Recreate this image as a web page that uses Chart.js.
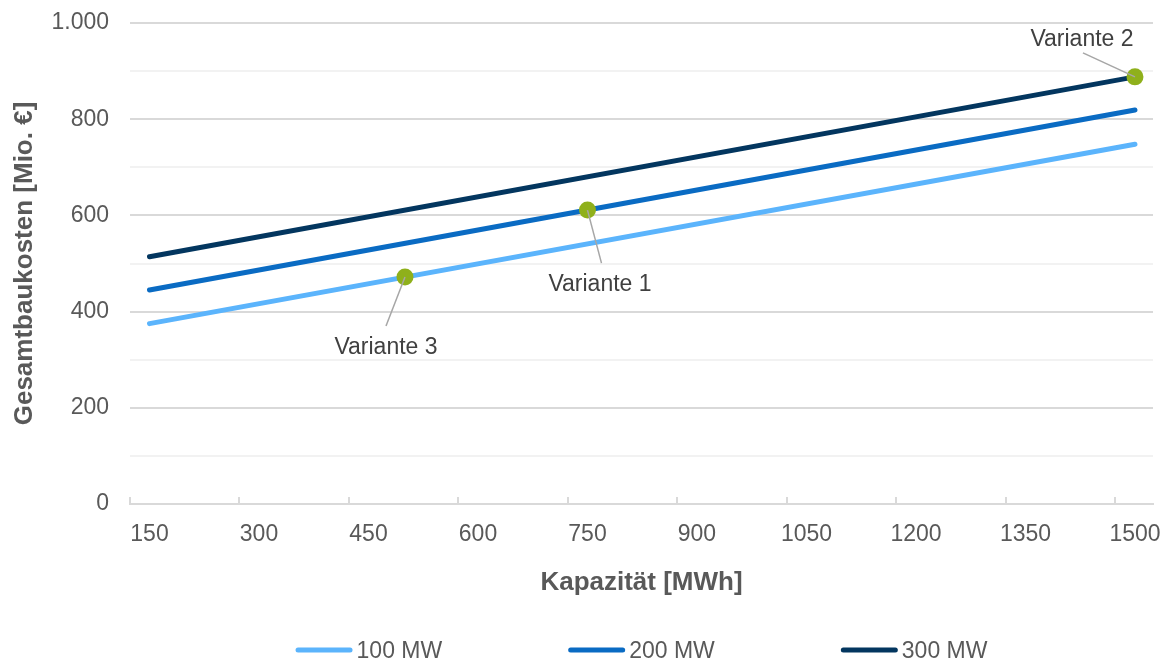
<!DOCTYPE html>
<html lang="de">
<head>
<meta charset="utf-8">
<title>Gesamtbaukosten nach Kapazität</title>
<script src="https://cdn.jsdelivr.net/npm/chart.js@4.4.1/dist/chart.umd.min.js"></script>
<style>
  html, body { margin: 0; padding: 0; background: #ffffff; }
  #wrap { width: 1167px; height: 660px; }
</style>
</head>
<body>
<div id="wrap"><canvas id="chart" width="1167" height="660"></canvas></div>
<script>
// Speicherkapazität [MWh] an den Enden der Kostengeraden
const capacities = [150, 1500];

// Gesamtbaukosten [Mio. €] je Leistungsklasse
const cost100MW = [375, 748];
const cost200MW = [445, 819];
const cost300MW = [514, 888];

// Untersuchte Varianten
const variantNames = ['Variante 1', 'Variante 2', 'Variante 3'];
const variantCapacity = [750, 1500, 500];
const variantCost = [611, 888, 472];

// Achsenbeschriftungen
const xTickValues = [150, 300, 450, 600, 750, 900, 1050, 1200, 1350, 1500];
const yTickStep = 100;
const yLabelStep = 200;

const seriesNames = ['100 MW', '200 MW', '300 MW'];
const seriesColors = ['#5bb4fc', '#0a6bc3', '#03365f'];

const FONT = "'Liberation Sans', Arial, Helvetica, sans-serif";
const TEXT = '#595959';
const X_MIN = 123.3;
const X_MAX = 1524.7;

function toPoints(xs, ys) {
  return xs.map((x, i) => ({ x: x, y: ys[i] }));
}

function formatDe(v) {
  return String(v).replace(/\B(?=(\d{3})+(?!\d))/g, '.');
}

// The plot area is fixed by the layout padding, so label overhang is not reserved
function noLabelPadding(s) {
  s.paddingLeft = 0;
  s.paddingRight = 0;
  s.paddingTop = 0;
  s.paddingBottom = 0;
}

// Tick marks on the capacity axis sit at the axis start and every 150 MWh from there
const axisTickMarks = {
  id: 'axisTickMarks',
  afterDraw(chart) {
    const s = chart.scales.x;
    const ctx = chart.ctx;
    const y0 = chart.chartArea.bottom;
    ctx.save();
    ctx.strokeStyle = '#d9d9d9';
    ctx.lineWidth = 2;
    ctx.beginPath();
    for (let v = X_MIN; v < X_MAX; v += 150) {
      const px = Math.round(s.getPixelForValue(v));
      ctx.moveTo(px, y0);
      ctx.lineTo(px, y0 - 7);
    }
    ctx.stroke();
    ctx.restore();
  }
};

// Labels with leader lines for the marked variants
const variantLabels = {
  id: 'variantLabels',
  afterDatasetsDraw(chart, args, opts) {
    const meta = chart.getDatasetMeta(3);
    const ctx = chart.ctx;
    ctx.save();
    meta.data.forEach((pt, i) => {
      const o = opts.offsets[i];
      ctx.strokeStyle = '#a6a6a6';
      ctx.lineWidth = 1.5;
      ctx.beginPath();
      ctx.moveTo(pt.x, pt.y);
      ctx.lineTo(pt.x + o.lx, pt.y + o.ly);
      ctx.stroke();
      ctx.fillStyle = '#404040';
      ctx.font = '23px ' + FONT;
      ctx.textAlign = 'center';
      ctx.textBaseline = 'middle';
      ctx.fillText(variantNames[i], pt.x + o.tx, pt.y + o.ty);
    });
    ctx.restore();
  }
};

// Legend row below the axis title
const lineLegend = {
  id: 'lineLegend',
  afterDraw(chart, args, opts) {
    const ctx = chart.ctx;
    ctx.save();
    ctx.font = '23px ' + FONT;
    const items = chart.data.datasets.filter(d => !d.hideInLegend);
    const widths = items.map(d => opts.lineLength + opts.gap + ctx.measureText(d.label).width);
    const total = widths.reduce((a, b) => a + b, 0) + opts.spacing * (items.length - 1);
    const cx = (chart.chartArea.left + chart.chartArea.right) / 2;
    let x = cx - total / 2;
    const y = opts.y;
    items.forEach((d, i) => {
      ctx.strokeStyle = d.borderColor;
      ctx.lineWidth = 5;
      ctx.lineCap = 'round';
      ctx.beginPath();
      ctx.moveTo(x + 2.5, y);
      ctx.lineTo(x + opts.lineLength - 2.5, y);
      ctx.stroke();
      ctx.fillStyle = TEXT;
      ctx.textAlign = 'left';
      ctx.textBaseline = 'middle';
      ctx.fillText(d.label, x + opts.lineLength + opts.gap, y + opts.textShift);
      x += widths[i] + opts.spacing;
    });
    ctx.restore();
  }
};

const lineSeries = [cost100MW, cost200MW, cost300MW].map((vals, i) => ({
  type: 'line',
  label: seriesNames[i],
  order: 1,
  data: toPoints(capacities, vals),
  borderColor: seriesColors[i],
  backgroundColor: seriesColors[i],
  borderWidth: 5,
  borderCapStyle: 'round',
  pointRadius: 0,
  tension: 0,
  fill: false
}));

const variantSeries = {
  type: 'scatter',
  label: 'Varianten',
  hideInLegend: true,
  order: 0,
  data: toPoints(variantCapacity, variantCost),
  pointRadius: 8.5,
  pointHoverRadius: 8.5,
  backgroundColor: '#8fb01b',
  borderWidth: 0,
  showLine: false
};

new Chart(document.getElementById('chart'), {
  type: 'line',
  data: { datasets: [...lineSeries, variantSeries] },
  plugins: [axisTickMarks, variantLabels, lineLegend],
  options: {
    responsive: false,
    devicePixelRatio: 1,
    animation: false,
    layout: { padding: { top: 23, right: 14, bottom: 61.4, left: 0 } },
    plugins: {
      legend: { display: false },
      tooltip: { enabled: false },
      variantLabels: {
        offsets: [
          { lx: 14, ly: 53, tx: 12.5, ty: 74.5 },
          { lx: -52, ly: -24, tx: -53, ty: -37.5 },
          { lx: -19, ly: 49, tx: -19, ty: 70.5 }
        ]
      },
      lineLegend: { lineLength: 57, gap: 4, spacing: 126, y: 650, textShift: 2 }
    },
    scales: {
      x: {
        type: 'linear',
        min: X_MIN,
        max: X_MAX,
        afterBuildTicks: s => { s.ticks = xTickValues.map(v => ({ value: v })); },
        afterFit: s => { s.height = 94.6; noLabelPadding(s); },
        grid: { display: false, drawTicks: false },
        border: { display: true, color: '#d9d9d9', width: 2 },
        ticks: {
          autoSkip: false,
          maxRotation: 0,
          padding: 17,
          color: TEXT,
          font: { family: FONT, size: 23 },
          callback: v => String(v)
        },
        title: {
          display: true,
          text: 'Kapazität [MWh]',
          color: TEXT,
          font: { family: FONT, size: 26, weight: 'bold' },
          padding: { top: 0, bottom: 0 }
        }
      },
      y: {
        min: 0,
        max: 1000,
        afterFit: s => { s.width = 130; noLabelPadding(s); },
        border: { display: false },
        grid: {
          drawTicks: false,
          lineWidth: 2,
          color: c => (c.tick && c.tick.value % yLabelStep === 0) ? '#d9d9d9' : '#f2f2f2'
        },
        ticks: {
          stepSize: yTickStep,
          padding: 21,
          color: TEXT,
          font: { family: FONT, size: 23 },
          callback: v => (v % yLabelStep === 0 ? formatDe(v) : '')
        },
        title: {
          display: true,
          text: 'Gesamtbaukosten [Mio. €]',
          color: TEXT,
          font: { family: FONT, size: 26, weight: 'bold' },
          padding: { top: 9, bottom: 0 }
        }
      }
    }
  }
});
</script>
</body>
</html>
